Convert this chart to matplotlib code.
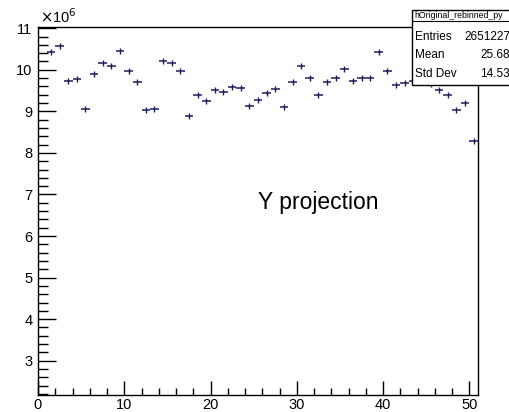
import matplotlib as mpl
import matplotlib.pyplot as plt
import numpy as np
from matplotlib.patches import Rectangle
from matplotlib.ticker import MultipleLocator
mpl.use("Agg")

plt.rcParams['font.family'] = ['Liberation Sans', 'DejaVu Sans']

# bin edges 0..51, bin contents in units of 1e6 (bin 0 is empty)
bin_edges = np.arange(0, 52)
counts = [0.0, 10.44, 10.58, 9.74, 9.78, 9.06, 9.90, 10.16, 10.08, 10.45,
          9.98, 9.70, 9.03, 9.06, 10.22, 10.17, 9.98, 8.89, 9.39, 9.26,
          9.51, 9.47, 9.59, 9.56, 9.12, 9.28, 9.43, 9.54, 9.11, 9.71,
          10.10, 9.80, 9.39, 9.70, 9.80, 10.03, 9.72, 9.80, 9.80, 10.42,
          9.96, 9.64, 9.68, 9.72, 9.75, 9.66, 9.52, 9.40, 9.04, 9.20, 8.29]

stats_title = "hOriginal_rebinned_py"
stats_names = ["Entries", "Mean", "Std Dev"]
stats_values = ["2651227", "25.68", "14.53"]

W, H = 510, 412
fig = plt.figure(figsize=(W / 100, H / 100), dpi=100)
ax = fig.add_axes([38 / W, (H - 395) / H, (478 - 38) / W, (395 - 27) / H])

centers = (bin_edges[:-1] + bin_edges[1:]) / 2
errs = np.sqrt(np.array(counts) * 1e6) / 1e6
ax.errorbar(centers, counts, xerr=0.5, yerr=errs, fmt='|', color='#1c1c5c',
            markersize=5, elinewidth=1.1, capsize=0, markeredgewidth=1.0)

ax.set_xlim(0, 51)
ax.set_ylim(2.175, 11.03)

ax.xaxis.set_major_locator(MultipleLocator(10))
ax.xaxis.set_minor_locator(MultipleLocator(2))
ax.yaxis.set_major_locator(MultipleLocator(1))
ax.yaxis.set_minor_locator(MultipleLocator(0.2))
ax.tick_params(which='both', direction='in', top=False, right=False,
               labelsize=10.5, color='black')
ax.tick_params(axis='y', which='major', length=13, width=1.0, pad=4)
ax.tick_params(axis='y', which='minor', length=7, width=1.0)
ax.tick_params(axis='x', which='major', length=10, width=1.0, pad=2)
ax.tick_params(axis='x', which='minor', length=5, width=1.0)
for s in ax.spines.values():
    s.set_linewidth(1.0)

ax.text((258 - 38) / 440, (395 - 203) / 368, "Y projection",
        transform=ax.transAxes, fontsize=16.5, ha='left', va='center')

fig.text(40 / W, (H - 17) / H, r"$\times$10$^{6}$", fontsize=10.5,
         ha='left', va='center')

# stats box
bx0, by0, bx1, by1 = 412, 10, 512, 85
fig.patches.append(Rectangle((bx0 / W, (H - by1) / H), (bx1 - bx0) / W,
                             (by1 - by0) / H, transform=fig.transFigure,
                             facecolor='white', edgecolor='black',
                             linewidth=1.0, zorder=5))
fig.lines.append(plt.Line2D([bx0 / W, 1], [(H - 21) / H, (H - 21) / H],
                            transform=fig.transFigure, color='black',
                            linewidth=0.8, zorder=6))
fig.text(414 / W, (H - 15.5) / H, stats_title, fontsize=6.3,
         ha='left', va='center', zorder=7)
row_y = [37, 55, 74]
for name, val, yy in zip(stats_names, stats_values, row_y):
    fig.text(415 / W, (H - yy) / H, name, fontsize=8.5, ha='left',
             va='center', zorder=7)
    fig.text(510 / W, (H - yy) / H, val, fontsize=8.5, ha='right',
             va='center', zorder=7)

fig.savefig("out.png", dpi=100)
